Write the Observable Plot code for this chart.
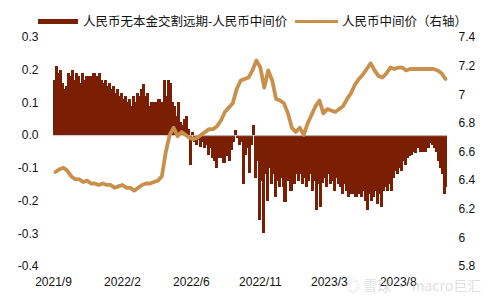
<!DOCTYPE html>
<html><head><meta charset="utf-8">
<script src="https://cdn.jsdelivr.net/npm/d3@7"></script>
<script src="https://cdn.jsdelivr.net/npm/@observablehq/plot@0.6"></script>
<style>
body{margin:0;background:#fff;width:488px;height:300px;overflow:hidden;position:relative;font-family:"Liberation Sans",Arial,"Noto Sans CJK SC",sans-serif;}
#legend{position:relative;height:30px;font-family:"Noto Sans CJK SC",sans-serif;font-size:12.5px;color:#111;}
#legend .sw{position:absolute;}
#legend .tx{position:absolute;top:13px;line-height:16px;white-space:nowrap;}
#wm{position:absolute;left:346px;top:275px;font-family:"Noto Sans CJK SC",sans-serif;font-size:14px;color:rgba(170,170,170,0.4);white-space:nowrap;}
</style>
</head><body>
<div id="legend"></div>
<div id="chart"></div>
<div id="wm">◎ 雪球 · macro巨汇</div>
<script>
const seriesNames = ["人民币无本金交割远期-人民币中间价", "人民币中间价（右轴）"];
const xLabels = ["2021/9", "2022/2", "2022/6", "2022/11", "2023/3", "2023/8"];
const xLabelIdx = [0, 35, 70, 105, 140, 175];
const leftTicks = [-0.4, -0.3, -0.2, -0.1, 0.0, 0.1, 0.2, 0.3];
const rightTicks = [5.8, 6.0, 6.2, 6.4, 6.6, 6.8, 7.0, 7.2, 7.4];

// NDF - fixing spread (left axis), sampled ~every 2 trading days
const spread = [
 0.17,0.21,0.19,0.20,0.16,0.14,0.15,0.19,0.18,0.20,
 0.17,0.19,0.18,0.16,0.19,0.17,0.18,0.15,0.18,0.17,
 0.19,0.18,0.16,0.19,0.17,0.16,0.17,0.15,0.16,0.14,
 0.15,0.13,0.14,0.12,0.13,0.11,0.12,0.10,0.11,0.09,
 0.12,0.10,0.13,0.12,0.14,0.155,0.12,0.13,0.09,0.10,
 0.08,0.10,0.09,0.11,0.09,0.10,0.17,0.12,0.17,0.16,
 0.10,0.09,0.06,0.10,0.04,0.03,0.05,0.06,0.02,-0.09,
 0.01,-0.02,-0.03,-0.015,-0.035,-0.02,-0.04,-0.03,-0.06,-0.04,
 -0.07,-0.08,-0.10,-0.05,-0.07,-0.045,-0.085,-0.05,-0.065,-0.08,
 -0.045,-0.02,0.015,-0.01,-0.03,-0.02,-0.15,-0.06,-0.04,-0.115,
 -0.03,0.03,-0.13,-0.08,-0.26,-0.14,-0.30,-0.12,-0.20,-0.10,
 -0.15,-0.12,-0.19,-0.14,-0.16,-0.13,-0.16,-0.205,-0.14,-0.12,
 -0.17,-0.13,-0.15,-0.12,-0.14,-0.12,-0.15,-0.13,-0.16,-0.14,
 -0.12,-0.17,-0.14,-0.23,-0.15,-0.22,-0.145,-0.13,-0.16,-0.12,
 -0.15,-0.14,-0.17,-0.13,-0.15,-0.16,-0.18,-0.15,-0.17,-0.19,
 -0.16,-0.18,-0.165,-0.19,-0.17,-0.18,-0.19,-0.17,-0.20,-0.23,
 -0.18,-0.20,-0.19,-0.17,-0.21,-0.18,-0.22,-0.17,-0.16,-0.17,
 -0.15,-0.17,-0.13,-0.11,-0.12,-0.10,-0.11,-0.08,-0.09,-0.07,
 -0.065,-0.06,-0.05,-0.055,-0.04,-0.035,-0.05,-0.04,-0.05,-0.035,
 -0.04,-0.025,-0.03,-0.04,-0.05,-0.08,-0.10,-0.12,-0.18,-0.16
];

// CNY central parity (right axis), sampled ~every 4 trading days
const fixing = [
 6.46,6.48,6.49,6.47,6.43,6.41,6.41,6.39,6.40,6.38,
 6.38,6.37,6.38,6.37,6.37,6.35,6.36,6.37,6.35,6.35,
 6.33,6.35,6.37,6.38,6.38,6.39,6.40,6.43,6.60,6.72,
 6.77,6.71,6.74,6.72,6.70,6.69,6.70,6.72,6.74,6.76,
 6.76,6.78,6.82,6.88,6.91,6.94,7.04,7.10,7.11,7.12,
 7.17,7.24,7.19,7.05,7.17,7.10,6.97,6.96,6.94,6.87,
 6.77,6.74,6.77,6.72,6.80,6.86,6.92,6.96,6.87,6.90,
 6.89,6.88,6.90,6.92,6.97,7.01,7.07,7.11,7.14,7.18,
 7.22,7.17,7.13,7.12,7.15,7.19,7.18,7.19,7.19,7.17,
 7.18,7.18,7.18,7.18,7.18,7.18,7.18,7.17,7.15,7.11
];

const barColor = "#7a1f04";
const lineColor = "#c8904a";

// map right-axis values onto the left scale
const rMin = 5.8, rMax = 7.4, lMin = -0.4, lMax = 0.3;
const toLeft = r => (r - rMin) / (rMax - rMin) * (lMax - lMin) + lMin;
const fromLeft = l => (l - lMin) / (lMax - lMin) * (rMax - rMin) + rMin;

const barData = spread.map((v, i) => ({i, v}));
const lineData = fixing.map((v, k) => ({x: 2 * k + 1, y: toLeft(v)}));

// legend
const lg = document.getElementById("legend");
lg.innerHTML = `
 <div class="sw" style="left:38px;top:19px;width:40px;height:5px;background:${barColor}"></div>
 <div class="tx" style="left:83px">${seriesNames[0]}</div>
 <div class="sw" style="left:295px;top:20px;width:43px;height:3px;background:${lineColor}"></div>
 <div class="tx" style="left:342px">${seriesNames[1]}</div>`;

const chart = Plot.plot({
  width: 488, height: 270,
  marginLeft: 53, marginRight: 41, marginTop: 7, marginBottom: 34,
  style: {fontFamily: '"Liberation Sans", Arial, sans-serif', fontSize: "12px", color: "#111", background: "#fff"},
  x: {domain: [0, spread.length], axis: null},
  y: {domain: [lMin, lMax], axis: null},
  marks: [
    Plot.rectY(barData, {x1: d => d.i, x2: d => Math.min(d.i + 1.6, spread.length), y1: 0, y2: d => d.v, fill: barColor, inset: 0, shapeRendering: "crispEdges"}),
    Plot.ruleY([0], {stroke: "#c9c9c9", strokeWidth: 1}),
    Plot.line(lineData, {x: "x", y: "y", stroke: lineColor, strokeWidth: 3.8, strokeLinejoin: "round"}),
    Plot.axisY(leftTicks, {anchor: "left", tickSize: 0, tickPadding: 15, label: null, tickFormat: d => d.toFixed(1)}),
    Plot.axisY(rightTicks.map(toLeft), {anchor: "right", tickSize: 0, tickPadding: 11, label: null,
      tickFormat: d => String(Math.round(fromLeft(d) * 10) / 10)}),
    Plot.axisX(xLabelIdx, {anchor: "bottom", tickSize: 0, tickPadding: 11, label: null,
      tickFormat: d => xLabels[xLabelIdx.indexOf(d)]})
  ]
});
document.getElementById("chart").appendChild(chart);
</script>
</body></html>
